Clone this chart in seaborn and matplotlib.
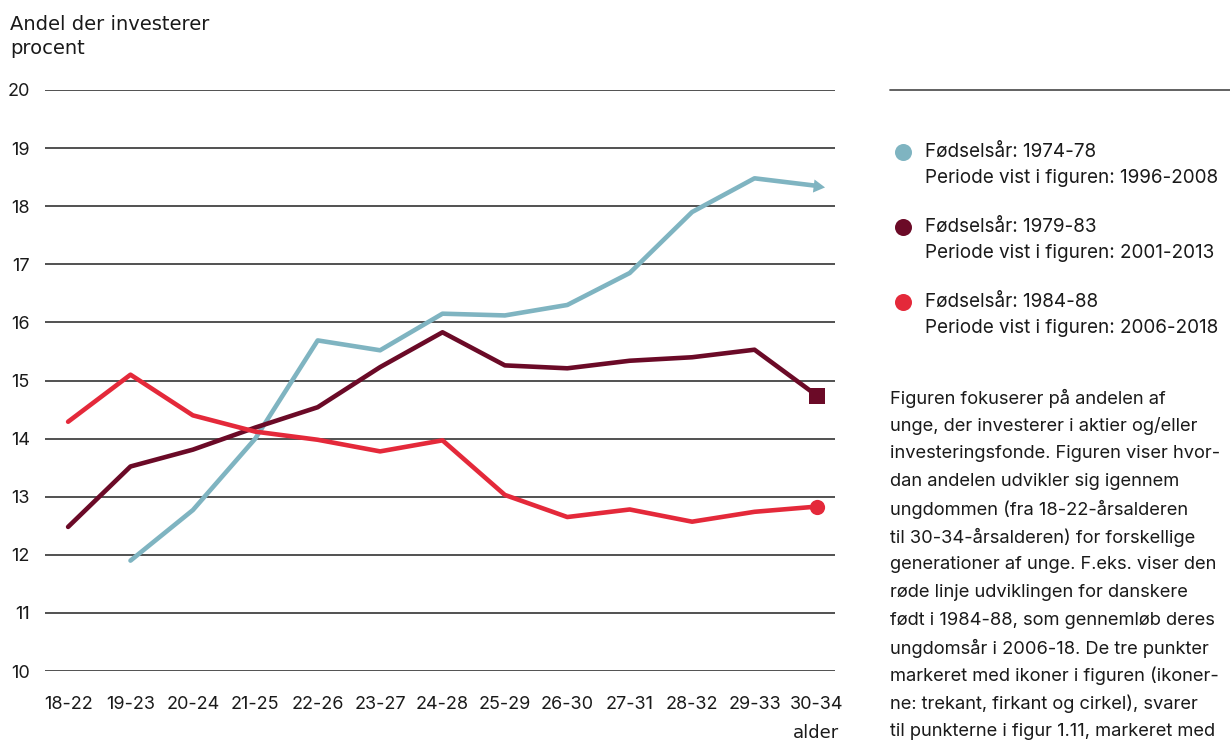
import pandas as pd
import seaborn as sns
import matplotlib.pyplot as plt

# age groups on the x axis
ages = ["18-22", "19-23", "20-24", "21-25", "22-26", "23-27", "24-28",
        "25-29", "26-30", "27-31", "28-32", "29-33", "30-34"]

# share of young people investing, percent (born 1974-78 starts at 19-23)
born_1974_78 = [None, 11.90, 12.77, 14.00, 15.69, 15.52, 16.15,
                16.12, 16.30, 16.85, 17.90, 18.48, 18.35]
born_1979_83 = [12.48, 13.52, 13.81, 14.19, 14.54, 15.23, 15.83,
                15.26, 15.21, 15.34, 15.40, 15.53, 14.74]
born_1984_88 = [14.29, 15.10, 14.40, 14.12, 13.98, 13.78, 13.97,
                13.03, 12.65, 12.78, 12.57, 12.74, 12.83]

cohorts = ["1974-78", "1979-83", "1984-88"]
periods = ["1996-2008", "2001-2013", "2006-2018"]
colors = ["#7fb4c1", "#6b0a27", "#e4293a"]
end_markers = [(3, 0, -97), "s", "o"]

y_ticks = [10, 11, 12, 13, 14, 15, 16, 17, 18, 19, 20]

note_lines = [
    "Figuren fokuserer på andelen af",
    "unge, der investerer i aktier og/eller",
    "investeringsfonde. Figuren viser hvor-",
    "dan andelen udvikler sig igennem",
    "ungdommen (fra 18-22-årsalderen",
    "til 30-34-årsalderen) for forskellige",
    "generationer af unge. F.eks. viser den",
    "røde linje udviklingen for danskere",
    "født i 1984-88, som gennemløb deres",
    "ungdomsår i 2006-18. De tre punkter",
    "markeret med ikoner i figuren (ikoner-",
    "ne: trekant, firkant og cirkel), svarer",
    "til punkterne i figur 1.11, markeret med",
]

rows = []
for cohort, values in zip(cohorts, [born_1974_78, born_1979_83, born_1984_88]):
    for i, (age, v) in enumerate(zip(ages, values)):
        if v is not None:
            rows.append({"pos": i, "alder": age, "andel": v, "cohort": cohort})
df = pd.DataFrame(rows)

sns.set_style("white")
plt.rcParams["font.family"] = ["Inter", "DejaVu Sans"]
TXT = "#1a1a1a"

fig = plt.figure(figsize=(12.3, 7.42), dpi=100)
ax = fig.add_axes([45 / 1230, 1 - 671 / 742, 790 / 1230, 581 / 742])

for y in y_ticks:
    ax.axhline(y, color="#222222", lw=1.1, zorder=1)

sns.lineplot(data=df, x="pos", y="andel", hue="cohort", hue_order=cohorts,
             palette=colors, linewidth=3.3, legend=False, ax=ax, zorder=3)

# endpoint icons
last = df.groupby("cohort").tail(1)
for cohort, color, mk in zip(cohorts, colors, end_markers):
    pt = last[last["cohort"] == cohort]
    ax.scatter(pt["pos"], pt["andel"], marker=mk, s=120, color=color,
               zorder=4, linewidths=0)

ax.set_xlim(-0.37, 12.29)
ax.set_ylim(10, 20)
ax.set_xticks(range(len(ages)))
ax.set_xticklabels(ages)
ax.set_yticks(y_ticks)
ax.set_yticklabels([str(t) for t in y_ticks])
ax.tick_params(axis="both", length=0, labelsize=13, colors=TXT)
ax.tick_params(axis="y", pad=11)
ax.tick_params(axis="x", pad=18)
ax.set_xlabel("")
ax.set_ylabel("")
for s in ax.spines.values():
    s.set_visible(False)
ax.patch.set_alpha(0)

fig.text(10 / 1230, 1 - 25 / 742, "Andel der investerer", fontsize=14,
         family="DejaVu Sans", color=TXT, va="center", ha="left")
fig.text(10 / 1230, 1 - 48 / 742, "procent", fontsize=14,
         family="DejaVu Sans", color=TXT, va="center", ha="left")
fig.text(839 / 1230, 1 - 733 / 742, "alder", fontsize=13,
         family="DejaVu Sans", color=TXT, va="center", ha="right")

# right side panel: legend and note
side = fig.add_axes([0, 0, 1, 1])
side.set_xlim(0, 1230)
side.set_ylim(742, 0)
side.axis("off")
side.plot([890, 1230], [90, 90], color="#555555", lw=1.3)

for k, (cohort, period, color) in enumerate(zip(cohorts, periods, colors)):
    y0 = 152 + k * 75
    side.scatter([903], [y0], s=150, color=color, linewidths=0)
    side.text(925, y0, f"Fødselsår: {cohort}", fontsize=13.6, color=TXT,
              va="center", ha="left")
    side.text(925, y0 + 26, f"Periode vist i figuren: {period}", fontsize=13.6,
              color=TXT, va="center", ha="left")

for j, line in enumerate(note_lines):
    side.text(890, 398 + j * 27.8, line, fontsize=13.2, color=TXT,
              va="center", ha="left")

fig.savefig("out.png", dpi=100)
